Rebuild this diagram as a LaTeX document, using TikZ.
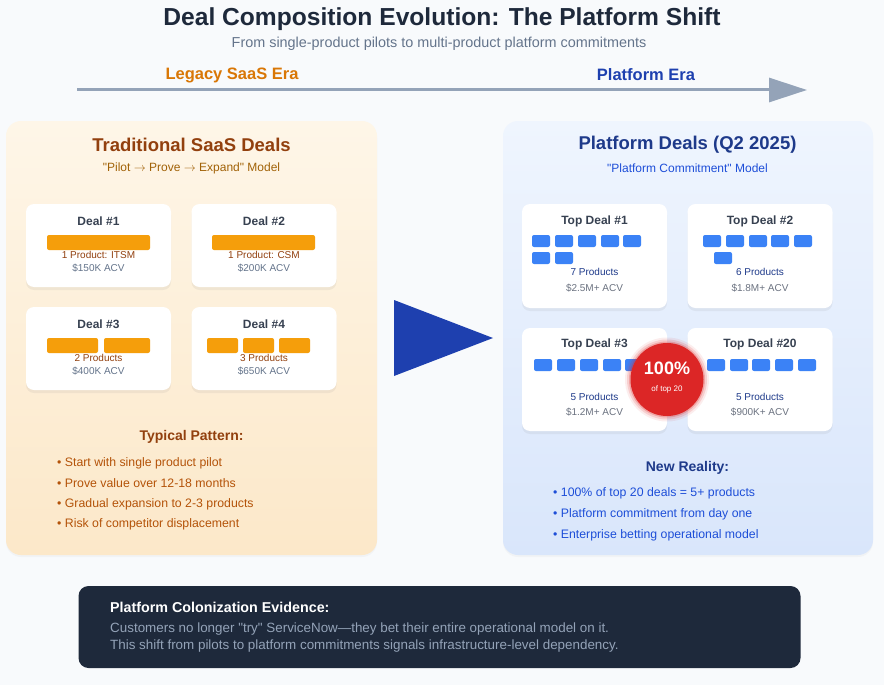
\documentclass[tikz,border=0pt]{standalone}
\usepackage{fontspec}
\setmainfont{Liberation Sans}
\usetikzlibrary{arrows.meta,shadows}
\definecolor{pagebg}{HTML}{F8FAFC}
\definecolor{ink}{HTML}{1E293B}
\definecolor{slate}{HTML}{64748B}
\definecolor{railgray}{HTML}{94A3B8}
\definecolor{legacyorange}{HTML}{D97706}
\definecolor{legacybrown}{HTML}{92400E}
\definecolor{legacyochre}{HTML}{A16207}
\definecolor{legacyrust}{HTML}{B45309}
\definecolor{legacytop}{HTML}{FEF6E8}
\definecolor{legacybot}{HTML}{FCE8C9}
\definecolor{amberbar}{HTML}{F59E0B}
\definecolor{platnavy}{HTML}{1E3A8A}
\definecolor{platroyal}{HTML}{1E40AF}
\definecolor{platlink}{HTML}{1D4ED8}
\definecolor{plattop}{HTML}{EFF5FE}
\definecolor{platbot}{HTML}{D9E6FB}
\definecolor{chipblue}{HTML}{3B82F6}
\definecolor{cardtitle}{HTML}{374151}
\definecolor{acvgray}{HTML}{6B7280}
\definecolor{alert}{HTML}{DC2626}
\tikzset{
  panel/.style={rounded corners=15pt, inner sep=0pt, minimum height=434pt,
    drop shadow={shadow xshift=0pt, shadow yshift=-2pt, opacity=0.05}},
  card/.style={fill=white, rounded corners=8pt, inner sep=0pt, minimum width=145pt,
    drop shadow={shadow xshift=0pt, shadow yshift=-3pt, opacity=0.10}},
  dealhead/.style={font=\bfseries\fontsize{12}{14}\selectfont, text=cardtitle, inner sep=0pt},
  small/.style={font=\fontsize{10}{12}\selectfont, inner sep=0pt},
  bullet/.style={font=\fontsize{12.3}{14}\selectfont, anchor=west, inner sep=0pt},
  bar/.style={fill=amberbar, rounded corners=2pt},
  chip/.style={fill=chipblue, rounded corners=2pt}
}
\begin{document}
\begin{tikzpicture}[x=1pt,y=-1pt]
  \useasboundingbox (0,0) rectangle (884,685);
  \fill[pagebg] (0,0) rectangle (884,685);
  \node[font=\bfseries\fontsize{24.6}{28}\selectfont, text=ink, inner sep=0pt] (title) at (442,19) {Deal Composition Evolution: The Platform Shift};
  \node[font=\fontsize{14.4}{16}\selectfont, text=slate, inner sep=0pt] (subtitle) at (439,44) {From single-product pilots to multi-product platform commitments};
  \node[font=\bfseries\fontsize{16.5}{18}\selectfont, text=legacyorange, inner sep=0pt] (legacyera) at (232,75) {Legacy SaaS Era};
  \node[font=\bfseries\fontsize{16.5}{18}\selectfont, text=platroyal, inner sep=0pt] (platformera) at (646,75) {Platform Era};
  \coordinate (eraStart) at (77,90);
  \coordinate (eraEnd) at (807,90);
  \draw[railgray, line width=3pt, -{Triangle[length=38pt,width=24pt]}] (eraStart) -- (eraEnd);

  \node[panel, minimum width=371pt, top color=legacytop, bottom color=legacybot] (legacy) at (191.5,338) {};
  \node[font=\bfseries\fontsize{18.5}{22}\selectfont, text=legacybrown, inner sep=0pt] (legacyt) at (191.5,145) {Traditional SaaS Deals};
  \node[font=\fontsize{12}{14}\selectfont, text=legacyochre, inner sep=0pt] (legacys) at (191.5,168) {\textquotedbl Pilot $\rightarrow$ Prove $\rightarrow$ Expand\textquotedbl{} Model};

  \node[card, minimum height=83pt] (deal1) at (98.5,245.5) {};
  \node[card, minimum height=83pt] (deal2) at (264,245.5) {};
  \node[card, minimum height=83pt] (deal3) at (98.5,348.5) {};
  \node[card, minimum height=83pt] (deal4) at (264,348.5) {};
  \node[dealhead] (deal1t) at (98.5,221) {Deal \#1};
  \node[dealhead] (deal2t) at (264,221) {Deal \#2};
  \node[dealhead] (deal3t) at (98.5,324) {Deal \#3};
  \node[dealhead] (deal4t) at (264,324) {Deal \#4};
  \fill[bar] (47,235) rectangle (150,250);
  \fill[bar] (212,235) rectangle (315,250);
  \fill[bar] (47,338) rectangle (98,353);
  \fill[bar] (104,338) rectangle (150,353);
  \foreach \x in {207,243,279}
    \fill[bar] (\x,338) rectangle ++(31,15);
  \node[small, text=legacybrown] (deal1p) at (98.5,255) {1 Product: ITSM};
  \node[small, text=slate] (deal1v) at (98.5,268) {\$150K ACV};
  \node[small, text=legacybrown] (deal2p) at (264,255) {1 Product: CSM};
  \node[small, text=slate] (deal2v) at (264,268) {\$200K ACV};
  \node[small, text=legacybrown] (deal3p) at (98.5,358) {2 Products};
  \node[small, text=slate] (deal3v) at (98.5,371) {\$400K ACV};
  \node[small, text=legacybrown] (deal4p) at (264,358) {3 Products};
  \node[small, text=slate] (deal4v) at (264,371) {\$650K ACV};

  \node[font=\bfseries\fontsize{14}{16}\selectfont, text=legacybrown, inner sep=0pt] (pattern) at (191.5,437) {Typical Pattern:};
  \node[bullet, text=legacyrust] (pattern1) at (57,463) {• Start with single product pilot};
  \node[bullet, text=legacyrust] (pattern2) at (57,483.5) {• Prove value over 12-18 months};
  \node[bullet, text=legacyrust] (pattern3) at (57,504) {• Gradual expansion to 2-3 products};
  \node[bullet, text=legacyrust] (pattern4) at (57,524.5) {• Risk of competitor displacement};

  \fill[platroyal] (394,300) -- (394,376) -- (493,338) -- cycle;

  \node[panel, minimum width=370pt, top color=plattop, bottom color=platbot] (platform) at (688,338) {};
  \node[font=\bfseries\fontsize{18.5}{22}\selectfont, text=platnavy, inner sep=0pt] (platformt) at (687.5,145) {Platform Deals (Q2 2025)};
  \node[font=\fontsize{12}{14}\selectfont, text=platlink, inner sep=0pt] (platforms) at (687.5,168) {\textquotedbl Platform Commitment\textquotedbl{} Model};

  \node[card, minimum height=104pt] (top1) at (594.5,256) {};
  \node[card, minimum height=104pt] (top2) at (760,256) {};
  \node[card, minimum height=103pt] (top3) at (594.5,379.5) {};
  \node[card, minimum height=103pt] (top20) at (760,379.5) {};
  \node[dealhead] (top1t) at (594.5,221) {Top Deal \#1};
  \node[dealhead] (top2t) at (760,221) {Top Deal \#2};
  \node[dealhead] (top3t) at (594.5,344) {Top Deal \#3};
  \node[dealhead] (top20t) at (760,344) {Top Deal \#20};
  \foreach \x in {532,555,578,601,623}
    \fill[chip] (\x,235) rectangle ++(18,12);
  \foreach \x in {532,555}
    \fill[chip] (\x,252) rectangle ++(18,12);
  \foreach \x in {703,726,749,771,794}
    \fill[chip] (\x,235) rectangle ++(18,12);
  \fill[chip] (714,252) rectangle ++(18,12);
  \foreach \x in {534,557,580,603,625}
    \fill[chip] (\x,359) rectangle ++(18,12);
  \foreach \x in {707,730,752,775,798}
    \fill[chip] (\x,359) rectangle ++(18,12);
  \node[small, text=platnavy] (top1p) at (594.5,272) {7 Products};
  \node[small, text=acvgray] (top1v) at (594.5,288.5) {\$2.5M+ ACV};
  \node[small, text=platnavy] (top2p) at (760,272) {6 Products};
  \node[small, text=acvgray] (top2v) at (760,288.5) {\$1.8M+ ACV};
  \node[small, text=platnavy] (top3p) at (594.5,397) {5 Products};
  \node[small, text=acvgray] (top3v) at (594.5,412.5) {\$1.2M+ ACV};
  \node[small, text=platnavy] (top20p) at (760,397) {5 Products};
  \node[small, text=acvgray] (top20v) at (760,412.5) {\$900K+ ACV};

  \foreach \r/\o in {42/0.08,40/0.15,38/0.25}
    \fill[alert, opacity=\o] (667,379.5) circle[radius=\r pt];
  \node[circle, fill=alert, minimum size=73pt, inner sep=0pt] (badge) at (667,379.5) {};
  \node[font=\bfseries\fontsize{18}{20}\selectfont, text=white, inner sep=0pt] (badgepct) at (667,368) {100\%};
  \node[font=\fontsize{8}{9}\selectfont, text=white, inner sep=0pt] (badgenote) at (667,389) {of top 20};

  \node[font=\bfseries\fontsize{14}{16}\selectfont, text=platnavy, inner sep=0pt] (reality) at (687.5,468) {New Reality:};
  \node[bullet, text=platlink] (reality1) at (553,493.5) {• 100\% of top 20 deals = 5+ products};
  \node[bullet, text=platlink] (reality2) at (553,514.5) {• Platform commitment from day one};
  \node[bullet, text=platlink] (reality3) at (553,535.5) {• Enterprise betting operational model};

  \node[fill=ink, rounded corners=10pt, minimum width=722pt, minimum height=82pt, inner sep=0pt] (evidence) at (439.5,627) {};
  \node[anchor=west, font=\bfseries\fontsize{14.3}{16}\selectfont, text=white, inner sep=0pt] (evidencet) at (110,607) {Platform Colonization Evidence:};
  \node[anchor=west, font=\fontsize{13.4}{15}\selectfont, text=railgray, inner sep=0pt] (evidence1) at (110,629.5) {Customers no longer \textquotedbl try\textquotedbl{} ServiceNow—they bet their entire operational model on it.};
  \node[anchor=west, font=\fontsize{13.4}{15}\selectfont, text=railgray, inner sep=0pt] (evidence2) at (110,646) {This shift from pilots to platform commitments signals infrastructure-level dependency.};
\end{tikzpicture}
\end{document}
